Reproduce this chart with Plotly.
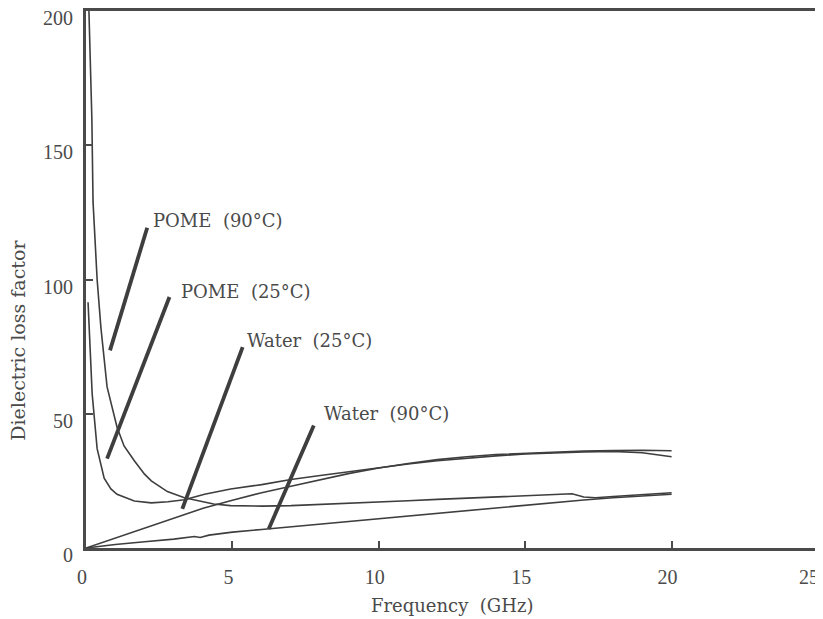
import plotly.graph_objects as go

# ---- data ----
pome90_x = [0.1, 0.2, 0.24, 0.38, 0.51, 0.72, 1.06, 1.3, 1.65, 2.0, 2.23, 2.78, 3.36, 3.94, 4.36, 4.94,
            6, 7, 8, 9, 10, 11, 12, 13, 14, 15, 16, 16.6, 17.0, 17.4, 18, 19, 20]
pome90_y = [200, 160, 129, 100, 82, 60, 45, 38, 32.5, 27.5, 25, 21, 18.7, 17.5, 16.4, 15.8,
            15.6, 15.8, 16.2, 16.6, 17.1, 17.6, 18.1, 18.6, 19.1, 19.5, 19.9, 20.2, 19.0, 18.7, 19.2, 19.8, 20.6]

pome25_x = [0.07, 0.14, 0.21, 0.38, 0.62, 0.85, 1.06, 1.65, 2.23, 2.8, 3.36, 4.05, 4.94,
            6, 7, 8, 9, 10, 11, 12, 13, 14, 15, 16, 17, 18, 19, 20]
pome25_y = [91.5, 75, 57.5, 37, 26, 22, 20, 17.5, 16.8, 17.2, 18, 20, 22,
            23.6, 25.5, 27, 28.5, 30, 31.3, 32.5, 33.5, 34.3, 35, 35.5, 35.8, 36, 35.5, 34]

water25_x = [0, 1, 2, 3, 4, 5, 6, 7, 8, 9, 10, 11, 12, 13, 14, 15, 16, 17, 18, 19, 20]
water25_y = [0, 3.7, 7.4, 11, 14.8, 17.8, 20.6, 23, 25.5, 27.8, 29.8, 31.5, 32.9, 34, 34.8, 35.3,
             35.8, 36.1, 36.3, 36.4, 36.2]

water90_x = [0, 1, 2, 3, 3.7, 3.9, 4.2, 5, 6, 7, 8, 9, 10, 11, 12, 13, 14, 15, 16, 17, 18, 19, 20]
water90_y = [0, 1.3, 2.3, 3.3, 4.3, 3.9, 4.8, 5.9, 6.9, 7.9, 8.9, 9.9, 10.9, 11.9, 12.9, 14, 15, 16,
             17, 17.9, 18.7, 19.4, 20]

# labels and their pointer lines (tail near label -> tip near curve)
label_texts = ["POME  (90°C)", "POME  (25°C)", "Water  (25°C)", "Water  (90°C)"]
label_x = [2.23, 3.16, 5.42, 8.06]
label_y = [122, 95.7, 77.4, 50]
ptr_tail_x = [2.09, 2.85, 5.35, 7.78]
ptr_tail_y = [119.3, 93.5, 74.8, 45.6]
ptr_tip_x = [0.82, 0.72, 3.29, 6.24]
ptr_tip_y = [73.6, 33.3, 14.6, 7.1]

x_ticks = [0, 5, 10, 15, 20, 25]
y_ticks = [0, 50, 100, 150, 200]

INK = "#3e3e3e"
TXT = "#4a4a4a"
FONT = "DejaVu Serif"
TICKFONT = "Liberation Serif"

fig = go.Figure()
for xs, ys, nm in [(pome90_x, pome90_y, "POME (90°C)"), (pome25_x, pome25_y, "POME (25°C)"),
                   (water25_x, water25_y, "Water (25°C)"), (water90_x, water90_y, "Water (90°C)")]:
    fig.add_trace(go.Scatter(x=xs, y=ys, mode="lines", name=nm,
                             line=dict(color=INK, width=1.6), showlegend=False))

for i in range(len(label_texts)):
    fig.add_trace(go.Scatter(x=[ptr_tail_x[i], ptr_tip_x[i]], y=[ptr_tail_y[i], ptr_tip_y[i]],
                             mode="lines", line=dict(color=INK, width=3.8), showlegend=False,
                             hoverinfo="skip"))
    fig.add_annotation(x=label_x[i], y=label_y[i], text=label_texts[i], showarrow=False,
                       xanchor="left", yanchor="middle",
                       font=dict(family=FONT, size=18, color=TXT))

axis_common = dict(showline=True, linecolor="#4a4a4a", linewidth=3, mirror=True,
                   showgrid=False, zeroline=False, ticks="inside", tickcolor="#4a4a4a",
                   tickwidth=1.5, ticklen=7, automargin=False, ticklabeloverflow="allow",
                   tickfont=dict(family=TICKFONT, size=20, color=TXT))

# last x tick label sits at the right page edge: drawn as a right-anchored annotation instead
x_ticktext = [str(v) for v in x_ticks[:-1]] + [""]
fig.update_xaxes(range=[0, 25], tickvals=x_ticks, ticktext=x_ticktext,
                 ticklabelstandoff=9, ticklabelshift=-4, **axis_common)
fig.update_yaxes(range=[0, 200], tickvals=y_ticks, ticktext=[str(v) for v in y_ticks],
                 ticklabelstandoff=6, ticklabelshift=7, **axis_common)
fig.add_annotation(x=x_ticks[-1], xref="x", yref="paper", y=0, yshift=-29, xshift=3,
                   text=str(x_ticks[-1]), showarrow=False, xanchor="right", yanchor="middle",
                   font=dict(family=TICKFONT, size=20, color=TXT))

# axis titles
fig.add_annotation(xref="paper", yref="paper", x=0.5, y=0, yshift=-57,
                   text="Frequency  (GHz)", showarrow=False, xanchor="center", yanchor="middle",
                   font=dict(family=FONT, size=18, color=TXT))
fig.add_annotation(xref="paper", yref="paper", x=0, y=0.386, xshift=-68,
                   text="Dielectric loss factor", showarrow=False, textangle=-90,
                   xanchor="center", yanchor="middle",
                   font=dict(family=FONT, size=19, color=TXT))

# the page body adds an ~8px offset, so the figure is sized/margined to land on the reference frame
fig.update_layout(width=815, height=611, plot_bgcolor="white", paper_bgcolor="white",
                  margin=dict(l=78, r=5, t=3, b=71), showlegend=False)

fig.write_html("out.html")
